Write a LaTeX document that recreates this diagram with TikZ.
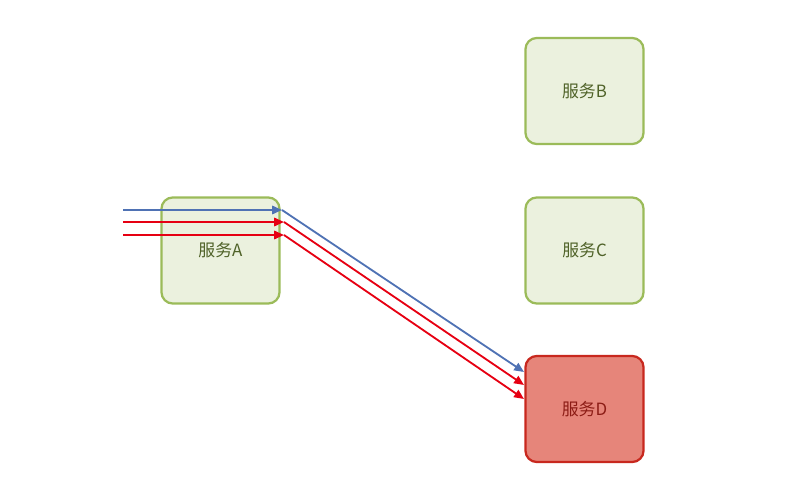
\documentclass[tikz,border=0pt]{standalone}
\usepackage{fontspec}
\setmainfont{Noto Sans CJK SC}
\usepackage{tikz}
\usetikzlibrary{arrows.meta}
\definecolor{boxgreen}{RGB}{155,187,89}
\definecolor{boxfill}{RGB}{235,241,222}
\definecolor{boxtext}{RGB}{79,98,40}
\definecolor{hotred}{RGB}{200,40,30}
\definecolor{hotfill}{RGB}{230,133,122}
\definecolor{flowblue}{RGB}{79,114,180}
\definecolor{flowred}{RGB}{230,0,18}
\tikzset{
  svc/.style={draw=boxgreen, fill=boxfill, line width=1.6pt, rounded corners=8pt,
    minimum width=2.95cm, minimum height=2.65cm, text=boxtext, font=\large},
  svchot/.style={svc, draw=hotred, fill=hotfill, text=hotred!70!black},
  flow/.style={line width=1.3pt, -{Triangle[length=7pt,width=6pt]}}
}
\begin{document}
\begin{tikzpicture}[x=0.025cm,y=-0.025cm]
\useasboundingbox (0,0) rectangle (801,478);

\node[svc] (A) at (220.5,250.5) {服务A};
\node[svc] (B) at (584.5,91) {服务B};
\node[svc] (C) at (584.5,250.5) {服务C};
\node[svchot] (D) at (584.5,409) {服务D};

\coordinate (in1) at (123,210);
\coordinate (in2) at (123,222);
\coordinate (in3) at (123,235);
\coordinate (a1) at (282,210);
\coordinate (a2) at (284,222);
\coordinate (a3) at (284,235);
\coordinate (d1) at (524,372);
\coordinate (d2) at (524,385);
\coordinate (d3) at (524,399);

\draw[flow, flowblue] (in1) -- (a1);
\draw[flow, flowblue] (a1) -- (d1);
\draw[flow, flowred] (in2) -- (a2);
\draw[flow, flowred] (a2) -- (d2);
\draw[flow, flowred] (in3) -- (a3);
\draw[flow, flowred] (a3) -- (d3);

\end{tikzpicture}
\end{document}
